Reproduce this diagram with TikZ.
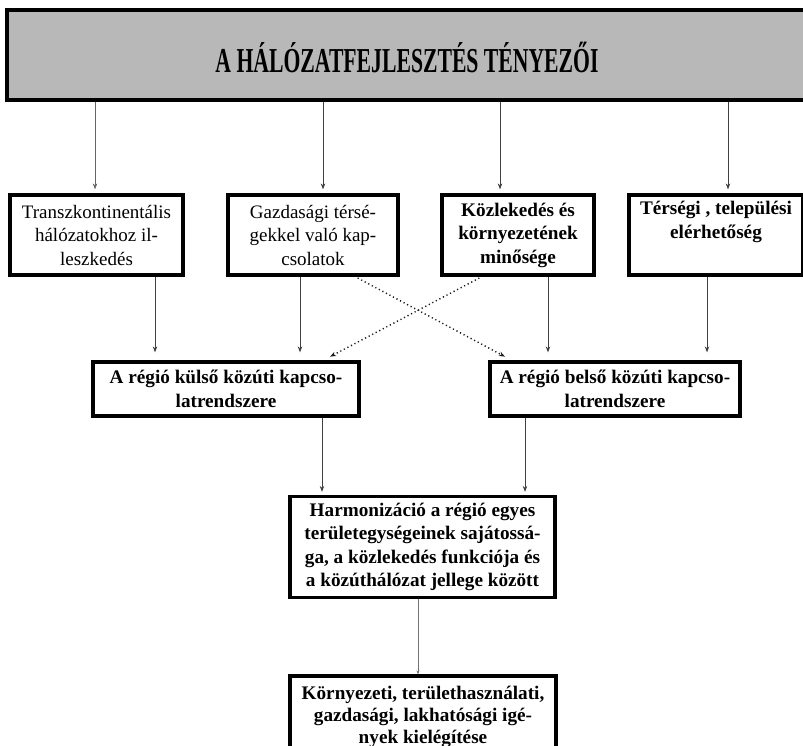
\documentclass[tikz,border=0pt]{standalone}
\usepackage{fontspec}
\setmainfont{Liberation Serif}
\usetikzlibrary{arrows.meta}
\begin{document}
\begin{tikzpicture}[x=1pt,y=-1pt,
  box/.style={draw, line width=3.2pt, align=center, inner sep=2pt,
    font=\fontsize{19}{23.5}\selectfont},
  bbox/.style={box, font=\fontsize{19.2}{23.5}\selectfont\bfseries},
  conn/.style={draw=black!75, line width=0.9pt, -{Stealth[length=6pt,width=4.5pt]}},
  dconn/.style={conn, draw=black!90, line width=1.4pt, dash pattern=on 1.2pt off 2.8pt},
  banner/.style={draw, line width=4.5pt, fill=black!28}]
\useasboundingbox (0,0) rectangle (803,746);
% banner
\node[banner, minimum width=808pt, minimum height=90pt] (banner) at (411,55) {};
\node (title) at (407,57) {\scalebox{0.62}[1]{\fontsize{35}{35}\selectfont\bfseries A HÁLÓZATFEJLESZTÉS TÉNYEZŐI}};
% top row
\node[box, minimum width=173pt, minimum height=80pt] (b1) at (96.5,235)
  {Transzkontinentális\\hálózatokhoz il-\\leszkedés};
\node[box, minimum width=170pt, minimum height=80pt] (b2) at (313,235)
  {Gazdasági térsé-\\gekkel való kap-\\csolatok};
\node[bbox, minimum width=152pt, minimum height=80pt] (b3) at (518,235)
  {Közlekedés és\\környezetének\\minősége};
\node[bbox, minimum width=174pt, minimum height=80pt] (b4) at (716,235)
  {Térségi , települési\\elérhetőség\\\strut};
% second row
\node[bbox, minimum width=266pt, minimum height=54pt] (ext) at (226,389)
  {A régió külső közúti kapcso-\\latrendszere};
\node[bbox, minimum width=250pt, minimum height=54pt] (int) at (615,389)
  {A régió belső közúti kapcso-\\latrendszere};
% harmonization
\node[bbox, minimum width=265pt, minimum height=101pt] (harm) at (422.5,547)
  {Harmonizáció a régió egyes\\területegységeinek sajátossá-\\ga, a közlekedés funkciója és\\a közúthálózat jellege között};
% final
\node[bbox, minimum width=266pt, minimum height=82pt, font=\fontsize{19.2}{22}\selectfont\bfseries] (fin) at (423,717)
  {Környezeti, területhasználati,\\gazdasági, lakhatósági igé-\\nyek kielégítése};
% x positions of connectors
\coordinate (xa1) at (95,0);
\coordinate (xa2) at (323,0);
\coordinate (xa3) at (500,0);
\coordinate (xa4) at (728,0);
\coordinate (xb1) at (155,0);
\coordinate (xb2) at (300,0);
\coordinate (xb3) at (548,0);
\coordinate (xb4) at (707,0);
\coordinate (xd1) at (355,0);
\coordinate (xd2) at (512,0);
\coordinate (xd3) at (482,0);
\coordinate (xd4) at (323,0);
\coordinate (xc1) at (322,0);
\coordinate (xc2) at (525,0);
\coordinate (xe) at (418,0);
% banner to top row
\draw[conn, draw=black!60, shorten >=4pt] (banner.south -| xa1) -- (b1.north -| xa1);
\draw[conn, shorten >=4pt] (banner.south -| xa2) -- (b2.north -| xa2);
\draw[conn, shorten >=4pt] (banner.south -| xa3) -- (b3.north -| xa3);
\draw[conn, shorten >=4pt] (banner.south -| xa4) -- (b4.north -| xa4);
% top row to second row
\draw[conn, shorten >=8pt] (b1.south -| xb1) -- (ext.north -| xb1);
\draw[conn, shorten >=8pt] (b2.south -| xb2) -- (ext.north -| xb2);
\draw[conn, shorten >=8pt] (b3.south -| xb3) -- (int.north -| xb3);
\draw[conn, shorten >=8pt] (b4.south -| xb4) -- (int.north -| xb4);
\draw[dconn, shorten >=8pt, shorten <=3pt] (b2.south -| xd1) -- (int.north -| xd2);
\draw[dconn, shorten >=8pt, shorten <=3pt] (b3.south -| xd3) -- (ext.north -| xd4);
% second row to harmonization
\draw[conn, shorten >=3pt] (ext.south -| xc1) -- (harm.north -| xc1);
\draw[conn, shorten >=3pt] (int.south -| xc2) -- (harm.north -| xc2);
% harmonization to final
\draw[conn, draw=black!55, -{Stealth[length=4pt,width=3pt]}] (harm.south -| xe) -- (fin.north -| xe);
\end{tikzpicture}
\end{document}
